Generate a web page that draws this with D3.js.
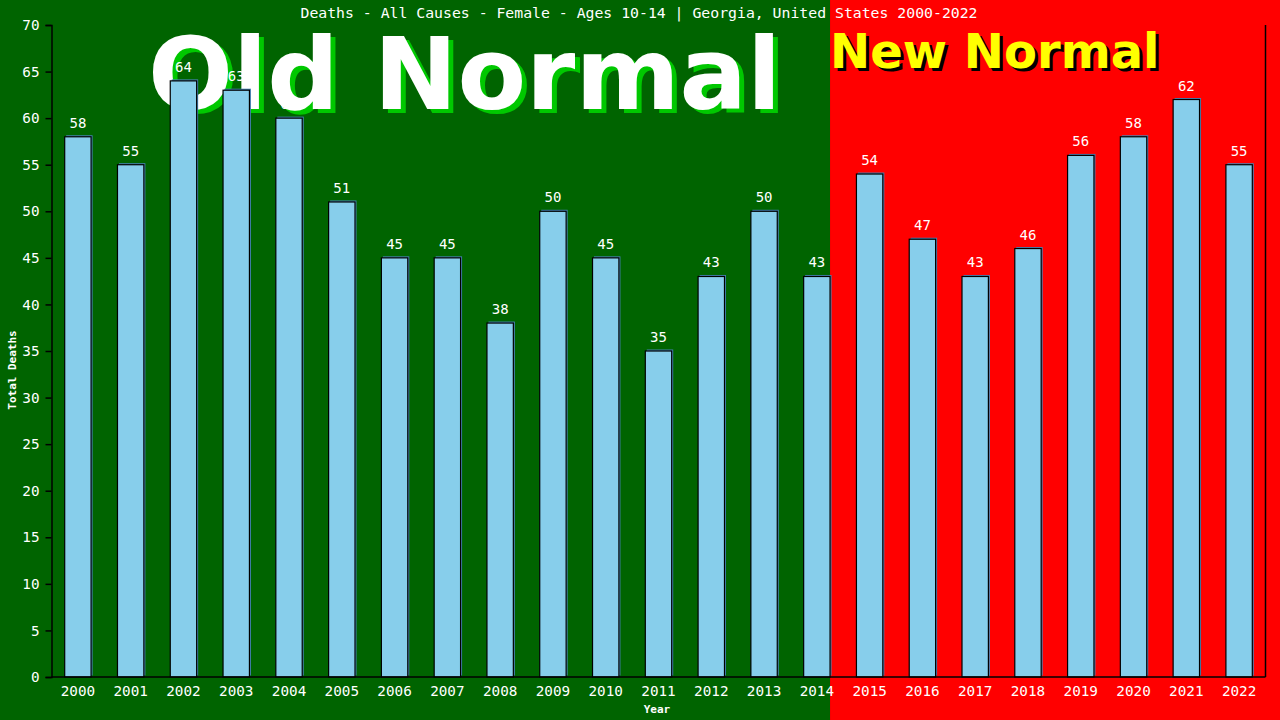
<!DOCTYPE html>
<html>
<head>
<meta charset="utf-8">
<script src="https://cdn.jsdelivr.net/npm/d3@7"></script>
<style>
  body { margin: 0; background: #000; }
  svg { display: block; }
</style>
</head>
<body>
<script>
// chart data
let years = ["2000","2001","2002","2003","2004","2005","2006","2007","2008","2009","2010","2011",
             "2012","2013","2014","2015","2016","2017","2018","2019","2020","2021","2022"];
let deaths = [58,55,64,63,60,51,45,45,38,50,45,35,43,50,43,54,47,43,46,56,58,62,55];
let yTicks = [0,5,10,15,20,25,30,35,40,45,50,55,60,65,70];
let lastOldYear = "2014";

let width = 1280, height = 720;
let margin = {top: 25, right: 14.5, bottom: 43, left: 51.5};
let monoFont = '"DejaVu Sans Mono", monospace';

let svg = d3.select("body").append("svg")
  .attr("width", width).attr("height", height);

let x = d3.scaleBand()
  .domain(years)
  .range([margin.left, width - margin.right])
  .paddingInner(0.5)
  .paddingOuter(0.25);

let y = d3.scaleLinear()
  .domain([0, 70])
  .range([height - margin.bottom, margin.top]);

// backgrounds
let splitX = x(lastOldYear) + x.bandwidth();
svg.append("rect").attr("x", 0).attr("y", 0)
  .attr("width", splitX).attr("height", height).attr("fill", "#006400");
svg.append("rect").attr("x", splitX).attr("y", 0)
  .attr("width", width - splitX).attr("height", height).attr("fill", "#ff0000");

// big labels
let bigFont = '"DejaVu Sans", Verdana, sans-serif';
svg.append("text").attr("x", 148 + 5).attr("y", 109 + 4)
  .attr("font-family", bigFont).attr("font-weight", "bold").attr("font-size", 100)
  .attr("fill", "#00c800").text("Old Normal");
svg.append("text").attr("x", 148).attr("y", 109)
  .attr("font-family", bigFont).attr("font-weight", "bold").attr("font-size", 100)
  .attr("fill", "#ffffff").text("Old Normal");

svg.append("text").attr("x", splitX + 3).attr("y", 68 + 3)
  .attr("font-family", bigFont).attr("font-weight", "bold").attr("font-size", 48)
  .attr("fill", "#000000").text("New Normal");
svg.append("text").attr("x", splitX).attr("y", 68)
  .attr("font-family", bigFont).attr("font-weight", "bold").attr("font-size", 48)
  .attr("fill", "#ffff00").text("New Normal");

// bars: shadow then bar
let bars = svg.append("g").selectAll("g")
  .data(years.map((yr, i) => ({year: yr, value: deaths[i]})))
  .enter().append("g");

bars.append("rect")
  .attr("x", d => x(d.year) + 1.5)
  .attr("y", d => y(d.value) - 1.5)
  .attr("width", x.bandwidth())
  .attr("height", d => y(0) - y(d.value))
  .attr("fill", "#4682b4");

bars.append("rect")
  .attr("x", d => x(d.year))
  .attr("y", d => y(d.value))
  .attr("width", x.bandwidth())
  .attr("height", d => y(0) - y(d.value))
  .attr("fill", "#87ceeb")
  .attr("stroke", "#000")
  .attr("stroke-width", 1.2);

bars.append("text")
  .attr("x", d => x(d.year) + x.bandwidth() / 2)
  .attr("y", d => y(d.value) - 9)
  .attr("text-anchor", "middle")
  .attr("font-family", monoFont).attr("font-size", 14)
  .attr("fill", "#fff")
  .text(d => d.value);

// axes
let yAxis = svg.append("g")
  .attr("transform", "translate(" + margin.left + ",0)")
  .call(d3.axisLeft(y).tickValues(yTicks).tickSize(6).tickPadding(6));
let xAxis = svg.append("g")
  .attr("transform", "translate(0," + y(0) + ")")
  .call(d3.axisBottom(x).tickSize(0).tickPadding(9));

[yAxis, xAxis].forEach(ax => {
  ax.select(".domain").attr("stroke", "#000").attr("stroke-width", 1.5);
  ax.selectAll(".tick line").attr("stroke", "#000").attr("stroke-width", 1.5);
  ax.selectAll("text").attr("fill", "#fff")
    .attr("font-family", monoFont).attr("font-size", 14.3);
});
xAxis.select(".domain").attr("d", "M" + margin.left + ",0H" + (width - margin.right));

// right border line
svg.append("line")
  .attr("x1", width - margin.right).attr("x2", width - margin.right)
  .attr("y1", y(70)).attr("y2", y(0))
  .attr("stroke", "#000").attr("stroke-width", 1.5);

// titles
svg.append("text").attr("x", 639).attr("y", 18)
  .attr("text-anchor", "middle")
  .attr("font-family", monoFont).attr("font-size", 14.8)
  .attr("fill", "#fff")
  .text("Deaths - All Causes - Female - Ages 10-14 | Georgia, United States 2000-2022");

svg.append("text").attr("x", 657).attr("y", 713)
  .attr("text-anchor", "middle")
  .attr("font-family", monoFont).attr("font-weight", "bold").attr("font-size", 11)
  .attr("fill", "#fff").text("Year");

svg.append("text")
  .attr("transform", "translate(16,370) rotate(-90)")
  .attr("text-anchor", "middle")
  .attr("font-family", monoFont).attr("font-weight", "bold").attr("font-size", 11)
  .attr("fill", "#fff").text("Total Deaths");
</script>
</body>
</html>
